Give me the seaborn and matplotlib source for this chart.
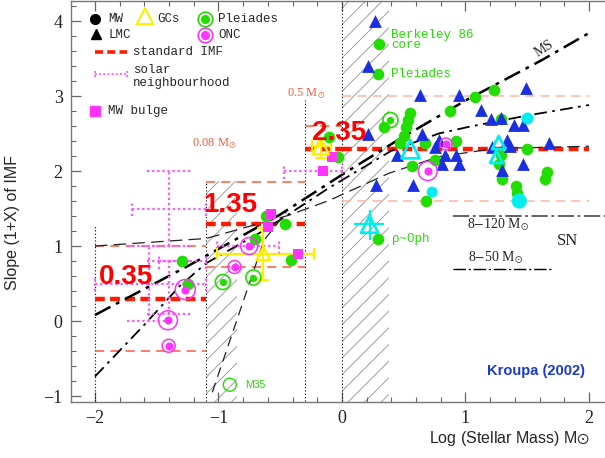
import matplotlib
matplotlib.use("Agg")
import matplotlib.pyplot as plt
import numpy as np
import pandas as pd
import seaborn as sns
from matplotlib.patches import Rectangle
from matplotlib.ticker import MultipleLocator

# ---------------- data ----------------
# Milky Way clusters (filled green circles)
mw_logm = [-1.295, -1.247, -0.703, -0.617, -0.463, -0.41, -0.105, -0.03, 0.34, 0.299,
           0.291, 0.294, 0.50, 0.52, 0.535, 0.55, 0.57, 0.68, 0.676, 0.75,
           0.878, 0.925, 1.08, 1.232, 1.29, 1.29, 1.274, 1.296, 1.409, 1.42,
           1.495, 1.662, 1.646, 0.47]
mw_alpha = [0.80, 0.50, 1.10, 1.40, 1.30, 0.81, 2.46, 2.19, 2.59, 3.69,
            3.29, 1.10, 2.47, 2.59, 2.68, 2.78, 2.07, 1.60, 2.37, 2.15,
            2.80, 2.40, 2.99, 3.08, 2.70, 2.21, 2.10, 1.89, 1.80, 1.71,
            2.30, 1.99, 1.90, 2.38]

# Large Magellanic Cloud clusters (filled blue triangles)
lmc_logm = [0.267, 0.213, 0.213, 0.272, 0.447, 0.572, 0.636, 0.649, 0.757, 0.784,
            0.81, 0.838, 0.92, 0.945, 0.945, 1.129, 1.21, 1.29, 1.215, 1.295,
            1.336, 1.36, 1.39, 1.47, 1.47, 1.492, 1.673]
lmc_alpha = [4.00, 3.40, 2.50, 1.81, 2.21, 1.82, 3.01, 2.50, 2.32, 2.41,
             2.10, 2.21, 2.21, 3.01, 2.10, 2.81, 2.70, 2.71, 2.32, 2.01,
             2.41, 2.33, 2.61, 2.61, 2.10, 3.11, 2.37]

# Globular clusters (open yellow triangles with error bars)
gc_logm = [-0.636, -0.172]
gc_alpha = [0.90, 2.33]
gc_logm_lo = [-1.008, -0.24]
gc_logm_hi = [-0.226, -0.09]
gc_alpha_lo = [0.55, 2.17]
gc_alpha_hi = [1.24, 2.44]

# LMC / rho Oph open cyan triangles
cyt_logm = [0.555, 1.269, 1.25, 0.224]
cyt_alpha = [2.29, 2.38, 2.19, 1.29]
oph_logm_range = [0.10, 0.34]
oph_alpha_range = [1.08, 1.48]

# filled cyan circles
cyc_logm = [1.503, 0.73, 1.436]
cyc_alpha = [2.70, 1.72, 1.60]

# Orion Nebula Cluster (filled magenta dot inside a ring)
onc_logm = [-0.752, -1.269, -0.870, -1.409, -1.403, 0.695, 0.843]
onc_alpha = [1.00, 0.42, 0.72, 0.01, -0.33, 2.00, 2.36]

# Pleiades (green dot inside a ring)
ple_logm = [-0.964, -0.717, 0.393]
ple_alpha = [0.52, 0.58, 2.68]

# M35 (open green circle)
m35_logm = [-0.908]
m35_alpha = [-0.85]

# Milky Way bulge (magenta squares)
blg_logm = [-0.571, -0.356, -0.15, -0.083, -0.60]
blg_alpha = [1.43, 0.90, 2.00, 2.19, 1.26]
blg_logm_lo = [-0.47]   # horizontal range for the -0.15 point
blg_logm_hi = [0.0]

# Solar neighbourhood estimates: centre and ranges
sn_logm = [-1.40, -1.56, -1.40, -0.75]
sn_alpha = [1.50, 0.50, 0.80, 1.00]
sn_logm_lo = [-1.70, -2.00, -1.48, -1.01]
sn_logm_hi = [-1.10, -1.10, -1.10, -0.51]
sn_alpha_lo = [1.00, 0.00, 0.10, 1.00]
sn_alpha_hi = [2.00, 1.00, 0.80, 1.00]

# Standard (multi-part power law) IMF
imf_edges = [-2.0, -1.097, -0.301, 0.0, 2.0]
imf_alpha = [0.3, 1.3, 2.3, 2.3]
imf_alpha_hi = [1.0, 1.85, 2.6, 3.0]
imf_alpha_lo = [-0.4, 0.72, np.nan, 1.6]
imf_labels = ["0.35", "1.35", "2.35"]

# model curves
ms_logm = [-2.0, -1.24, -0.5, 0.0, 0.46, 1.0, 1.62, 2.0]
ms_alpha = [0.08, 0.74, 1.42, 1.95, 2.42, 2.94, 3.48, 3.84]
sn120_logm = [-2.0, -1.6, -1.317, -1.1, -0.63, -0.1, 0.4, 0.784, 1.03, 1.5, 2.0]
sn120_alpha = [-0.74, -0.05, 0.46, 0.77, 1.21, 1.78, 2.27, 2.50, 2.59, 2.74, 2.88]
sn50_logm = [-2.0, -1.1, -0.43, -0.1, 0.38, 0.784, 1.24, 2.0]
sn50_alpha = [1.0, 1.1, 1.41, 1.61, 1.97, 2.19, 2.30, 2.33]
low_logm = [-1.05, -0.63, -0.45]
low_alpha = [-0.95, 1.08, 1.45]

# mass boundaries (dotted verticals) and excluded ranges (hatched)
bound_logm = [-2.0, -1.097, -0.301, 0.0]
bound_top = [1.28, 1.87, 2.95, 4.4]
hatch_logm = [(-1.097, -0.848), (0.0, 0.38)]
hatch_top = [1.87, 4.4]

# ---------------- style ----------------
sns.set_theme(style="ticks")
plt.rcParams["font.family"] = ["Liberation Sans", "DejaVu Sans"]
plt.rcParams["mathtext.fontset"] = "stix"
plt.rcParams["hatch.linewidth"] = 0.6

GREEN = "#22dd00"
BLUE = "#1a30e0"
CYAN = "#00eeee"
MAGENTA = "#ff33ff"
PINK = "#ff55ff"
YELLOW = "#ffee00"
RED = "#ff1a00"
SALMON = "#ff5a3a"
PALE = "#ffb4a4"
SERIF = ["Liberation Serif", "DejaVu Serif"]
MONO = ["Liberation Mono", "DejaVu Sans Mono"]

fig = plt.figure(figsize=(6.05, 4.58), dpi=100)
fig.patch.set_facecolor("white")
ax = fig.add_axes([71 / 605, 56 / 458, 534 / 605, 401 / 458])
ax.set_facecolor("white")
ax.set_xlim(-2.194, 2.13)
ax.set_ylim(-1.08, 4.267)

# hatched ranges
for (x0, x1), top in zip(hatch_logm, hatch_top):
    ax.add_patch(Rectangle((x0, -1.2), x1 - x0, top + 1.2, fill=False, hatch="//",
                           edgecolor="#909090", lw=0, zorder=0))

# dotted mass boundaries
for x, top in zip(bound_logm, bound_top):
    ax.plot([x, x], [-1.2, top], color="black", lw=0.8, ls=(0, (1, 2)), zorder=1)

# standard IMF with its uncertainty range
for i, a in enumerate(imf_alpha):
    x0, x1 = imf_edges[i], imf_edges[i + 1]
    thin_col = PALE if i == 3 else SALMON
    ax.plot([x0, x1], [imf_alpha_hi[i]] * 2, color=thin_col, lw=1.1, ls=(0, (6, 4)), zorder=1)
    if not np.isnan(imf_alpha_lo[i]):
        ax.plot([x0, x1], [imf_alpha_lo[i]] * 2, color=thin_col, lw=1.1, ls=(0, (6, 4)), zorder=1)
for i, a in enumerate(imf_alpha):
    x0, x1 = imf_edges[i], imf_edges[i + 1]
    ax.plot([x0, x1], [a, a], color=RED, lw=3.2, ls=(0, (2.2, 1.2)), zorder=3)

# model curves
sns.lineplot(x=ms_logm, y=ms_alpha, ax=ax, color="black", lw=1.8,
             linestyle=(0, (7, 2.5, 1.5, 2.5)), sort=False, zorder=4)
sns.lineplot(x=sn120_logm, y=sn120_alpha, ax=ax, color="black", lw=1.3,
             linestyle=(0, (7, 3, 1.5, 3)), sort=False, zorder=4)
sns.lineplot(x=sn50_logm, y=sn50_alpha, ax=ax, color="#222222", lw=0.9,
             linestyle=(0, (10, 5)), sort=False, zorder=4)
sns.lineplot(x=low_logm, y=low_alpha, ax=ax, color="#222222", lw=0.9,
             linestyle=(0, (8, 5)), sort=False, zorder=4)

# solar neighbourhood ranges (dotted crosses with caps)
dot = (0, (1, 1.3))
for x, y, xl, xh, yl, yh in zip(sn_logm, sn_alpha, sn_logm_lo, sn_logm_hi, sn_alpha_lo, sn_alpha_hi):
    ax.plot([xl, xh], [y, y], color=PINK, lw=1.6, ls=dot, zorder=5)
    ax.plot([xl, xl], [y - 0.1, y + 0.1], color=PINK, lw=1.6, ls=dot, zorder=5)
    ax.plot([xh, xh], [y - 0.1, y + 0.1], color=PINK, lw=1.6, ls=dot, zorder=5)
    if yh > yl:
        ax.plot([x, x], [yl, yh], color=PINK, lw=1.6, ls=dot, zorder=5)
        ax.plot([x - 0.18, x + 0.18], [yh, yh], color=PINK, lw=1.6, ls=dot, zorder=5)
        ax.plot([x - 0.18, x + 0.18], [yl, yl], color=PINK, lw=1.6, ls=dot, zorder=5)

# bulge horizontal range
ax.plot([blg_logm_lo[0], blg_logm_hi[0]], [blg_alpha[2]] * 2, color=PINK, lw=1.6, ls=dot, zorder=5)
for xe in (blg_logm_lo[0], blg_logm_hi[0]):
    ax.plot([xe, xe], [blg_alpha[2] - 0.1, blg_alpha[2] + 0.1], color=PINK, lw=1.6, ls=dot, zorder=5)

# globular cluster error bars
for x, y, xl, xh, yl, yh in zip(gc_logm, gc_alpha, gc_logm_lo, gc_logm_hi, gc_alpha_lo, gc_alpha_hi):
    ax.errorbar([x], [y], xerr=[[x - xl], [xh - x]], yerr=[[y - yl], [yh - y]],
                fmt="none", ecolor=YELLOW, elinewidth=1.6, capsize=4, capthick=1.6, zorder=6)

# rho Oph error bars
ax.errorbar([cyt_logm[3]], [cyt_alpha[3]],
            xerr=[[cyt_logm[3] - oph_logm_range[0]], [oph_logm_range[1] - cyt_logm[3]]],
            yerr=[[cyt_alpha[3] - oph_alpha_range[0]], [oph_alpha_range[1] - cyt_alpha[3]]],
            fmt="none", ecolor=CYAN, elinewidth=1.6, zorder=6)

# markers
mw = pd.DataFrame({"logm": mw_logm, "alpha": mw_alpha})
sns.scatterplot(data=mw, x="logm", y="alpha", marker="o", s=70, color=GREEN,
                linewidth=0, ax=ax, zorder=7, legend=False)
lmc = pd.DataFrame({"logm": lmc_logm, "alpha": lmc_alpha})
sns.scatterplot(data=lmc, x="logm", y="alpha", marker="^", s=85, color=BLUE,
                linewidth=0, ax=ax, zorder=8, legend=False)
cyc = pd.DataFrame({"logm": cyc_logm, "alpha": cyc_alpha})
sns.scatterplot(data=cyc, x="logm", y="alpha", marker="o", s=[75, 62, 120], color=CYAN,
                linewidth=0, ax=ax, zorder=8, legend=False)
ax.scatter(cyt_logm, cyt_alpha, marker="^", s=[170, 90, 80, 150], facecolors="none",
           edgecolors=CYAN, linewidths=2.0, zorder=9)
ax.scatter(gc_logm, gc_alpha, marker="^", s=[95, 140], facecolors="none",
           edgecolors=YELLOW, linewidths=1.8, zorder=9)
blg = pd.DataFrame({"logm": blg_logm, "alpha": blg_alpha})
sns.scatterplot(data=blg, x="logm", y="alpha", marker="s", s=50, color=MAGENTA,
                linewidth=0, ax=ax, zorder=8, legend=False)

onc_ring = [17, 20, 13, 19, 13, 19, 12]
ax.scatter(onc_logm, onc_alpha, s=[(d * 0.72) ** 2 for d in onc_ring], facecolors="none",
           edgecolors=MAGENTA, linewidths=1.1, zorder=9)
sns.scatterplot(x=onc_logm, y=onc_alpha, s=34, color=MAGENTA, linewidth=0, ax=ax,
                zorder=9, legend=False)
ax.scatter(ple_logm, ple_alpha, s=(15 * 0.72) ** 2, facecolors="none",
           edgecolors=GREEN, linewidths=1.2, zorder=9)
sns.scatterplot(x=ple_logm, y=ple_alpha, s=28, color=GREEN, linewidth=0, ax=ax,
                zorder=9, legend=False)
ax.scatter(m35_logm, m35_alpha, s=(13 * 0.72) ** 2, facecolors="none",
           edgecolors=GREEN, linewidths=1.0, zorder=9)

# ---------------- annotations ----------------
ax.text(m35_logm[0] + 0.12, m35_alpha[0], "M35", color=GREEN, fontsize=7.5,
        va="center", ha="left")
ax.text(0.40, 3.75, "Berkeley 86\ncore", color=GREEN, family=MONO, fontsize=9,
        va="center", ha="left", linespacing=0.75)
ax.text(0.40, 3.30, "Pleiades", color=GREEN, family=MONO, fontsize=9,
        va="center", ha="left")
ax.text(0.405, 1.10, "ρ~Oph", color=GREEN, family=MONO, fontsize=9,
        va="center", ha="left")

for lab, x0, y0 in zip(imf_labels, [-1.97, -1.12, -0.24], [0.59, 1.55, 2.51]):
    ax.text(x0, y0, lab, color="#ff0000", fontsize=20, fontweight="bold",
            va="center", ha="left", zorder=10)

ax.text(-1.03, 2.36, r"0.08 M$_{\odot}$", color=SALMON, family=SERIF, fontsize=9,
        ha="center", va="center")
ax.text(-0.29, 3.03, r"0.5 M$_{\odot}$", color=SALMON, family=SERIF, fontsize=9,
        ha="center", va="center")

ax.text(1.64, 3.63, "MS", family=SERIF, fontsize=10, rotation=33,
        ha="center", va="center")
ax.text(1.01, 1.29, r"8$-$120 M$_{\odot}$", family=SERIF, fontsize=10,
        ha="left", va="center")
ax.text(1.02, 0.85, r"8$-$50 M$_{\odot}$", family=SERIF, fontsize=10,
        ha="left", va="center")
ax.text(1.83, 1.07, "SN", family=SERIF, fontsize=12, ha="center", va="center")
ax.plot([0.9, 2.13], [1.40, 1.40], color="#555555", lw=1.3,
        ls=(0, (9, 2, 1.5, 2)), clip_on=False)
ax.plot([0.9, 1.69], [0.70, 0.70], color="black", lw=1.0, ls=(0, (9, 2, 1.5, 2)))

ax.text(1.97, -0.67, "Kroupa (2002)", color="#1a3ad0", fontsize=10.5,
        fontweight="bold", ha="right", va="center")

# ---------------- legend block ----------------
def fx(px):
    return (px - 71) / 534


def fy(py):
    return (402 - py) / 401


T = ax.transAxes
ax.plot(fx(95), fy(19), "o", ms=7, color="black", transform=T, zorder=11)
ax.text(fx(108), fy(19), "MW", family=MONO, fontsize=9, va="center", transform=T)
ax.plot(fx(96), fy(34), "^", ms=7.5, color="black", transform=T, zorder=11)
ax.text(fx(108), fy(35), "LMC", family=MONO, fontsize=9, va="center", transform=T)
ax.plot(fx(145), fy(16), "^", ms=11, mfc="none", mec=YELLOW, mew=1.5, transform=T, zorder=11)
ax.text(fx(157), fy(19), "GCs", family=MONO, fontsize=9, va="center", transform=T)
ax.plot(fx(205), fy(19), "o", ms=10.5, mfc="none", mec=GREEN, mew=1.2, transform=T, zorder=11)
ax.plot(fx(205), fy(19), "o", ms=5.5, color=GREEN, transform=T, zorder=11)
ax.text(fx(218), fy(19), "Pleiades", family=MONO, fontsize=9, va="center", transform=T)
ax.plot(fx(205), fy(35), "o", ms=10.5, mfc="none", mec=MAGENTA, mew=1.2, transform=T, zorder=11)
ax.plot(fx(205), fy(35), "o", ms=5.5, color=MAGENTA, transform=T, zorder=11)
ax.text(fx(218), fy(35), "ONC", family=MONO, fontsize=9, va="center", transform=T)
ax.plot([fx(95), fx(127)], [fy(52)] * 2, color=RED, lw=2.6, ls=(0, (2.2, 1.2)), transform=T)
ax.text(fx(133), fy(52), "standard IMF", family=MONO, fontsize=9, va="center", transform=T)
ax.plot([fx(95), fx(127)], [fy(74)] * 2, color=PINK, lw=1.3, ls=dot, transform=T)
for px in (95, 127):
    ax.plot([fx(px)] * 2, [fy(71), fy(77)], color=PINK, lw=1.3, ls=dot, transform=T)
ax.text(fx(133), fy(70), "solar", family=MONO, fontsize=9, va="center", transform=T)
ax.text(fx(133), fy(83), "neighbourhood", family=MONO, fontsize=9, va="center", transform=T)
ax.plot(fx(95), fy(111), "s", ms=7, color=MAGENTA, transform=T, zorder=11)
ax.text(fx(108), fy(111), "MW bulge", family=MONO, fontsize=9, va="center", transform=T)

# ---------------- axes ----------------
ax.xaxis.set_major_locator(MultipleLocator(1))
ax.xaxis.set_minor_locator(MultipleLocator(0.2))
ax.yaxis.set_major_locator(MultipleLocator(1))
ax.yaxis.set_minor_locator(MultipleLocator(0.2))
ax.tick_params(which="both", direction="in", top=True, right=False, color="#666666",
               labelcolor="#222222")
ax.tick_params(which="major", length=7, width=0.9, labelsize=13, pad=6)
ax.tick_params(which="minor", length=3.5, width=0.8)
for lab in ax.get_xticklabels() + ax.get_yticklabels():
    lab.set_family(SERIF)
for side in ("left", "bottom", "top"):
    ax.spines[side].set_color("#777777")
    ax.spines[side].set_linewidth(1.0)
ax.spines["right"].set_visible(False)

ax.set_xlabel(r"Log (Stellar Mass) M$\odot$", fontsize=11.5)
ax.xaxis.set_label_coords(fx(590), fy(429))
ax.xaxis.label.set_horizontalalignment("right")
ax.set_ylabel("Slope (1+X) of IMF", fontsize=11.5)
ax.yaxis.set_label_coords(fx(20), fy(222))

fig.savefig("out.png", dpi=100, facecolor="white")
